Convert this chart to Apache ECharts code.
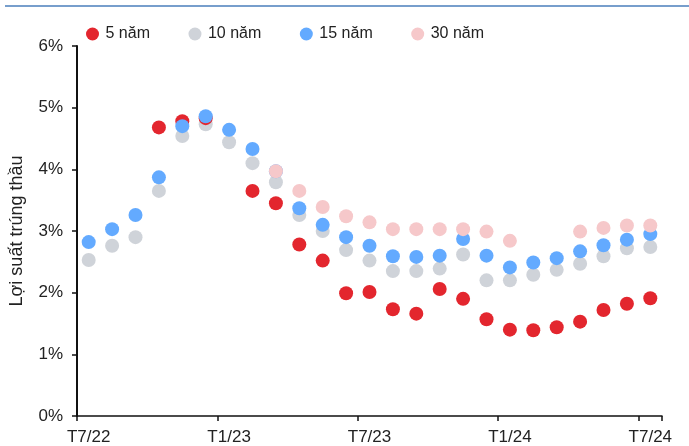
<!DOCTYPE html>
<html><head><meta charset="utf-8">
<script src="https://cdn.jsdelivr.net/npm/echarts@6/dist/echarts.min.js"></script>
<style>html,body{margin:0;padding:0;background:#fff}#c{width:689px;height:446px}</style>
</head><body><div id="c"></div>
<script>
const categories = ['T7/22','T8/22','T9/22','T10/22','T11/22','T12/22','T1/23','T2/23','T3/23','T4/23','T5/23','T6/23','T7/23','T8/23','T9/23','T10/23','T11/23','T12/23','T1/24','T2/24','T3/24','T4/24','T5/24','T6/24','T7/24'];
const seriesNames = ['5 năm','10 năm','15 năm','30 năm'];
const y5  = [null,null,null,4.68,4.78,4.83,null,3.65,3.45,2.78,2.52,1.99,2.01,1.73,1.66,2.06,1.90,1.57,1.40,1.39,1.44,1.53,1.72,1.82,1.91];
const y10 = [2.53,2.76,2.90,3.65,4.54,4.73,4.44,4.10,3.79,3.26,3.00,2.69,2.52,2.35,2.35,2.39,2.62,2.20,2.20,2.29,2.37,2.47,2.59,2.72,2.74];
const y15 = [2.82,3.03,3.26,3.87,4.70,4.86,4.64,4.33,3.97,3.37,3.10,2.90,2.76,2.59,2.58,2.60,2.87,2.60,2.41,2.49,2.56,2.67,2.77,2.86,2.95];
const y30 = [null,null,null,null,null,null,null,null,3.97,3.65,3.39,3.24,3.14,3.03,3.03,3.03,3.03,2.99,2.84,null,null,2.99,3.05,3.09,3.09];
const yTicks = [0,1,2,3,4,5,6];

const chart = echarts.init(document.getElementById('c'), null, {renderer:'canvas'});
const FONT = '"Liberation Sans", Arial, sans-serif';
const colors = {'5 năm':'#e3262e','10 năm':'#cfd3d9','15 năm':'#63aaff','30 năm':'#f6c8ca'};
const dataMap = {'5 năm':y5,'10 năm':y10,'15 năm':y15,'30 năm':y30};
const order = ['10 năm','5 năm','15 năm','30 năm'];
chart.setOption({
  animation:false,
  backgroundColor:'#fff',
  graphic:[{type:'line',shape:{x1:5,y1:6,x2:689,y2:6},style:{stroke:'#4a7ebb',lineWidth:1.5}}],
  legend:{
    data: seriesNames,
    left:81, top:21,
    icon:'circle', itemWidth:16, itemHeight:13, itemGap:38.5,
    textStyle:{fontFamily:FONT,fontSize:16,color:'#222'}
  },
  grid:{left:77,right:27,top:46,bottom:30,containLabel:false},
  xAxis:{
    type:'category', data:categories, boundaryGap:true,
    axisLine:{lineStyle:{color:'#111',width:1.5}},
    axisTick:{show:true,interval:5,length:5,lineStyle:{color:'#111',width:1.5}},
    axisLabel:{interval:5,fontFamily:FONT,fontSize:17,color:'#222',margin:13}
  },
  yAxis:{
    type:'value', min:yTicks[0], max:yTicks[yTicks.length-1], interval:1,
    name:'Lợi suất trúng thầu', nameLocation:'middle', nameGap:51,
    nameTextStyle:{fontFamily:FONT,fontSize:18,color:'#222'},
    axisLine:{show:true,lineStyle:{color:'#111',width:2}},
    axisTick:{show:true,length:5,lineStyle:{color:'#111',width:1.5}},
    axisLabel:{formatter:'{value}%',fontFamily:FONT,fontSize:17,color:'#222',margin:14},
    splitLine:{show:false}
  },
  series: order.map(n=>({
    name:n, type:'scatter', data:dataMap[n], symbol:'circle', symbolSize:14,
    itemStyle:{color:colors[n],opacity:1}
  }))
});
</script></body></html>
